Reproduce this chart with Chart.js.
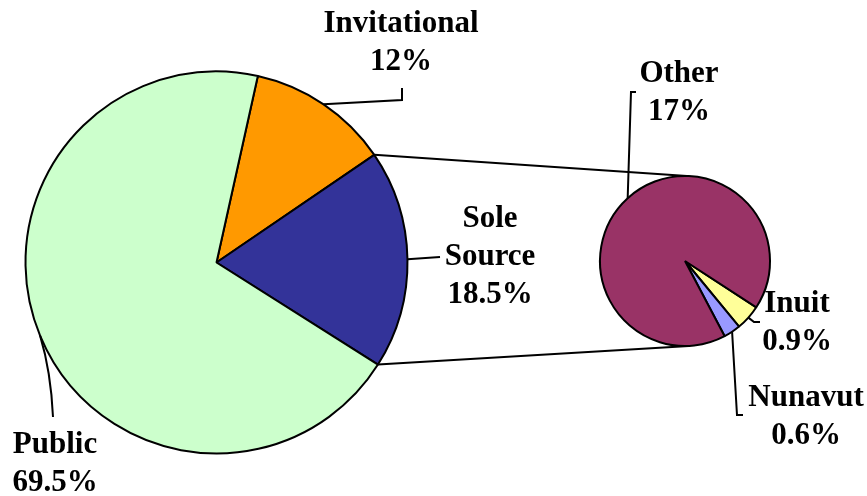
<!DOCTYPE html>
<html lang="en">
<head>
    <meta charset="UTF-8">
    <title>Tender Types - Pie of Pie</title>
    <script src="https://cdn.jsdelivr.net/npm/chart.js"></script>
    <style>
        body {
            margin: 0;
            background: #fff;
        }
        #wrap {
            position: relative;
            width: 867px;
            height: 496px;
        }
        canvas {
            position: absolute;
            left: 0;
            top: 0;
        }
    </style>
</head>
<body>

<div id="wrap">
    <canvas id="mainPie" width="867" height="496"></canvas>
    <canvas id="subPie" width="867" height="496"></canvas>
</div>

<script>
    // Main pie (Other is split out into the small pie)
    const mainLabels = ['Invitational', 'Sole Source', 'Public'];
    const mainValues = [12, 18.5, 69.5];
    const mainColors = ['#FF9900', '#333399', '#CCFFCC'];

    // Secondary pie: breakdown of Sole Source
    const subLabels = ['Inuit', 'Nunavut', 'Other'];
    const subValues = [0.9, 0.6, 17];
    const subColors = ['#FFFF99', '#9999FF', '#993366'];

    const labelFont = 'bold 31px "Liberation Serif", "Times New Roman", serif';

    // label text placement: centre x, first baseline, and leader path (after the anchor on the pie)
    const mainLabelPos = {
        'Invitational': { x: 401, y: 32, lines: ['Invitational'], leader: [[402, 100], [402, 88]] },
        'Sole Source': { x: 490, y: 227, lines: ['Sole', 'Source'], leader: [[440, 257]] },
        'Public': { x: 55, y: 453, lines: ['Public'], curve: [[51, 372], [53, 417]] }
    };
    const subLabelPos = {
        'Inuit': { x: 797, y: 312, lines: ['Inuit'], leader: [[754, 322], [760, 322]] },
        'Nunavut': { x: 806, y: 406, lines: ['Nunavut'], leader: [[737, 415], [743, 415]] },
        'Other': { x: 679, y: 82, lines: ['Other'], leader: [[631, 92], [636, 92]] }
    };

    function edgePoint(arc, frac) {
        const a = arc.startAngle + (arc.endAngle - arc.startAngle) * frac;
        return [arc.x + Math.cos(a) * arc.outerRadius, arc.y + Math.sin(a) * arc.outerRadius];
    }

    function drawLabels(ctx, meta, labels, values, pos) {
        meta.data.forEach((arc, i) => {
            const p = pos[labels[i]];
            const start = edgePoint(arc, 0.5);
            ctx.beginPath();
            ctx.moveTo(start[0], start[1]);
            if (p.curve) {
                ctx.quadraticCurveTo(p.curve[0][0], p.curve[0][1], p.curve[1][0], p.curve[1][1]);
            } else {
                p.leader.forEach(pt => ctx.lineTo(pt[0], pt[1]));
            }
            ctx.stroke();

            const lines = p.lines.concat([values[i] + '%']);
            lines.forEach((t, j) => ctx.fillText(t, p.x, p.y + j * 38));
        });
    }

    const common = {
        responsive: false,
        animation: false,
        events: [],
        plugins: {
            legend: { display: false },
            tooltip: { enabled: false }
        }
    };

    const mainChart = new Chart(document.getElementById('mainPie'), {
        type: 'pie',
        data: {
            labels: mainLabels,
            datasets: [{
                data: mainValues,
                backgroundColor: mainColors,
                borderColor: '#000',
                borderWidth: 2
            }]
        },
        options: Object.assign({}, common, {
            rotation: 12.5,
            radius: 191,
            layout: { padding: { left: 0, right: 434, top: 29, bottom: 0 } }
        })
    });

    const overlay = {
        id: 'overlay',
        afterDraw(chart) {
            const ctx = chart.ctx;
            const mainMeta = mainChart.getDatasetMeta(0);
            const subMeta = chart.getDatasetMeta(0);
            const split = mainMeta.data[mainLabels.indexOf('Sole Source')];
            const sub = subMeta.data[0];

            ctx.save();
            ctx.strokeStyle = '#000';
            ctx.lineWidth = 2;

            // connector lines between the split slice and the small pie
            const a = edgePoint(split, 0);
            const b = edgePoint(split, 1);
            ctx.beginPath();
            ctx.moveTo(a[0], a[1]);
            ctx.lineTo(sub.x + 2, sub.y - sub.outerRadius);
            ctx.moveTo(b[0], b[1]);
            ctx.lineTo(sub.x + 4, sub.y + sub.outerRadius);
            ctx.stroke();

            ctx.font = labelFont;
            ctx.fillStyle = '#000';
            ctx.textAlign = 'center';
            ctx.textBaseline = 'alphabetic';
            drawLabels(ctx, mainMeta, mainLabels, mainValues, mainLabelPos);
            drawLabels(ctx, subMeta, subLabels, subValues, subLabelPos);
            ctx.restore();
        }
    };

    new Chart(document.getElementById('subPie'), {
        type: 'pie',
        data: {
            labels: subLabels,
            datasets: [{
                data: subValues,
                backgroundColor: subColors,
                borderColor: '#000',
                borderWidth: 2
            }]
        },
        options: Object.assign({}, common, {
            rotation: 123,
            radius: 85,
            layout: { padding: { left: 600, right: 97, top: 175, bottom: 149 } }
        }),
        plugins: [overlay]
    });
</script>

</body>
</html>
